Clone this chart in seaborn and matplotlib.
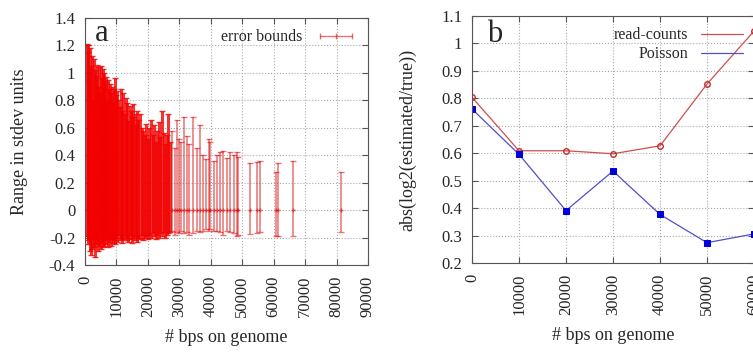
import numpy as np
import pandas as pd
import matplotlib
matplotlib.use('Agg')
import matplotlib.pyplot as plt
from matplotlib.lines import Line2D
import seaborn as sns

# panel a: error bounds per position (bp), centred on 0
bar_pos = [500, 800, 1100, 1400, 1700, 2000, 2300, 2600, 2900, 3200,
           3500, 3800, 4100, 4400, 4700, 5000, 5300, 5600, 5900, 6200,
           6500, 6800, 7100, 7400, 7700, 8000, 8300, 8600, 8900, 9200,
           9500, 9800, 10200, 10600, 11000, 11400, 11800, 12200, 12600, 13000,
           13400, 13800, 14200, 14600, 15000, 15400, 15800, 16200, 16600, 17000,
           17500, 18000, 18500, 19000, 19500, 20000, 20500, 21000, 21500, 22000,
           22500, 23000, 23500, 24000, 24500, 25000, 25500, 26000, 26500, 27000,
           27800, 28500, 29200, 30000, 30600, 31500, 32300, 33000, 34500, 35500,
           36500, 37500, 38500, 39300, 39800, 41000, 42000, 43000, 44000, 45000,
           46200, 47300, 48200, 48500, 52500, 54800, 55800, 60800, 61300, 66300,
           81400]
bar_upper = [1.21, 1.15, 1.20, 0.95, 1.18, 1.05, 1.12, 0.80, 1.10, 1.02,
             0.98, 1.06, 0.90, 1.04, 0.85, 1.05, 0.96, 1.03, 0.88, 1.00,
             0.93, 0.97, 0.80, 0.95, 0.88, 0.92, 0.85, 0.90, 0.78, 0.88,
             0.96, 0.84, 0.87, 0.80, 0.75, 0.88, 0.72, 0.85, 0.70, 0.82,
             0.78, 0.65, 0.76, 0.72, 0.68, 0.77, 0.70, 0.62, 0.72, 0.66,
             0.70, 0.60, 0.58, 0.55, 0.63, 0.52, 0.60, 0.66, 0.55, 0.62,
             0.50, 0.58, 0.64, 0.53, 0.72, 0.56, 0.48, 0.55, 0.70, 0.50,
             0.58, 0.45, 0.66, 0.52, 0.50, 0.68, 0.54, 0.48, 0.68, 0.45,
             0.62, 0.40, 0.37, 0.52, 0.50, 0.36, 0.40, 0.42, 0.43, 0.38,
             0.42, 0.40, 0.42, 0.39, 0.34, 0.35, 0.355, 0.28, 0.34, 0.355,
             0.28]
bar_lower = [-0.19, -0.22, -0.25, -0.18, -0.30, -0.33, -0.28, -0.20, -0.27, -0.34,
             -0.25, -0.22, -0.30, -0.26, -0.20, -0.28, -0.24, -0.27, -0.22, -0.26,
             -0.20, -0.25, -0.22, -0.27, -0.23, -0.21, -0.26, -0.20, -0.24, -0.22,
             -0.25, -0.20, -0.23, -0.18, -0.22, -0.20, -0.24, -0.21, -0.19, -0.22,
             -0.20, -0.23, -0.21, -0.18, -0.24, -0.20, -0.22, -0.19, -0.23, -0.20,
             -0.21, -0.18, -0.22, -0.20, -0.19, -0.21, -0.18, -0.20, -0.17, -0.19,
             -0.21, -0.18, -0.20, -0.17, -0.19, -0.16, -0.20, -0.18, -0.17, -0.16,
             -0.15, -0.18, -0.16, -0.17, -0.15, -0.17, -0.16, -0.18, -0.17, -0.15,
             -0.16, -0.15, -0.14, -0.15, -0.14, -0.15, -0.15, -0.16, -0.18, -0.15,
             -0.16, -0.17, -0.19, -0.18, -0.175, -0.17, -0.16, -0.19, -0.19, -0.19,
             -0.16]

# panel b
bps = [0, 10000, 20000, 30000, 40000, 50000, 60000]
read_counts = [0.804, 0.609, 0.609, 0.598, 0.627, 0.852, 1.045]
poisson = [0.761, 0.596, 0.391, 0.535, 0.377, 0.274, 0.306]

sns.set_style('ticks')
plt.rcParams['font.family'] = ['Liberation Serif', 'DejaVu Serif']

fig = plt.figure(figsize=(7.53, 3.52), dpi=100)
ax1 = fig.add_axes([85 / 753, 87 / 352, 283 / 753, 247 / 352])
ax2 = fig.add_axes([472 / 753, 89 / 352, 282 / 753, 247 / 352])

bar_color = (0.85, 0.0, 0.0)
pos = np.array(bar_pos)
up = np.array(bar_upper)
lo = np.array(bar_lower)
dense = pos < 27500
# the crowded part of the plot renders as a solid block, so draw it heavier
ax1.errorbar(pos[dense], np.zeros(dense.sum()), yerr=[-lo[dense], up[dense]],
             fmt='none', ecolor=(0.95, 0.0, 0.0), alpha=0.8, elinewidth=2.2,
             capsize=2.5, capthick=1)
ax1.errorbar(pos[~dense], np.zeros((~dense).sum()), yerr=[-lo[~dense], up[~dense]],
             fmt='+', markersize=3, color=bar_color, ecolor=bar_color, alpha=0.55,
             elinewidth=1.1, capsize=2.5, capthick=1)
ax1.set_xlim(0, 90000)
ax1.set_ylim(-0.4, 1.4)
ax1.set_xticks(range(0, 90001, 10000))
ax1.set_yticks(np.arange(-0.4, 1.41, 0.2))
ax1.set_yticklabels(['-0.4', '-0.2', '0', '0.2', '0.4', '0.6', '0.8', '1', '1.2', '1.4'])
ax1.set_ylabel('Range in stdev units', fontsize=13, labelpad=15)
ax1.set_xlabel('# bps on genome', fontsize=13, labelpad=8)
ax1.text(0.035, 0.905, 'a', transform=ax1.transAxes, fontsize=22)
h_err = Line2D([], [], color=bar_color, alpha=0.55, lw=1, marker='|', markersize=5)
ax1.legend([h_err], ['error bounds'], loc='upper right', markerfirst=False,
           frameon=False, fontsize=11.5, handlelength=2.6, numpoints=3,
           borderaxespad=0.3)

df = pd.DataFrame({'bps': bps, 'read': read_counts, 'poisson': poisson})
sns.lineplot(data=df, x='bps', y='read', ax=ax2, color='#cc5050', lw=0.9,
             marker='o', markersize=4, markerfacecolor='none',
             markeredgecolor='#c03030', markeredgewidth=1)
sns.lineplot(data=df, x='bps', y='poisson', ax=ax2, color='#5050c8', lw=0.9,
             marker='s', markersize=4.5, markerfacecolor='#0000dd',
             markeredgecolor='#0000dd')
ax2.set_xlim(0, 60000)
ax2.set_ylim(0.2, 1.1)
ax2.set_xticks(range(0, 60001, 10000))
ax2.set_yticks(np.arange(0.2, 1.11, 0.1))
ax2.set_yticklabels(['0.2', '0.3', '0.4', '0.5', '0.6', '0.7', '0.8', '0.9', '1', '1.1'])
ax2.set_ylabel('abs(log2(estimated/true))', fontsize=13, labelpad=18)
ax2.set_xlabel('# bps on genome', fontsize=13, labelpad=8)
ax2.text(0.053, 0.895, 'b', transform=ax2.transAxes, fontsize=22)
h_r = Line2D([], [], color='#cc5050', lw=0.9)
h_p = Line2D([], [], color='#5050c8', lw=0.9)
ax2.legend([h_r, h_p], ['read-counts', 'Poisson'], loc='upper right',
           markerfirst=False, frameon=False, fontsize=11.5, handlelength=2.6,
           labelspacing=0.2, borderaxespad=0.3)

for ax in (ax1, ax2):
    ax.grid(True, linestyle=':', color='#aaaaaa', linewidth=0.8)
    ax.tick_params(direction='in', top=True, right=True, length=4,
                   color='#555555', labelsize=12)
    ax.tick_params(axis='x', labelrotation=90, pad=8)
    ax.tick_params(axis='y', pad=7)
    for sp in ax.spines.values():
        sp.set_color('#555555')
        sp.set_linewidth(0.8)

fig.savefig('out.png', dpi=100)
